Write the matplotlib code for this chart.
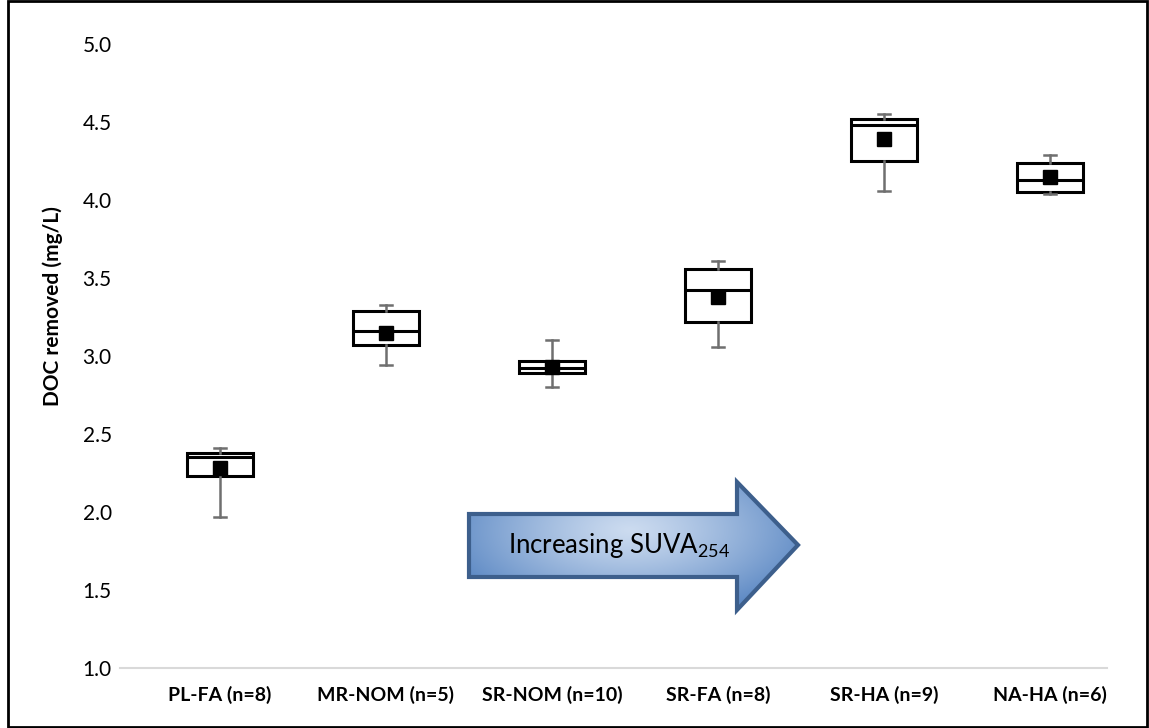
import matplotlib
matplotlib.use("Agg")
import matplotlib.pyplot as plt
import numpy as np
from matplotlib.patches import Polygon, Rectangle

plt.rcParams["font.family"] = ["Lato", "DejaVu Sans"]

# data (mg/L)
categories = ["PL-FA (n=8)", "MR-NOM (n=5)", "SR-NOM (n=10)",
              "SR-FA (n=8)", "SR-HA (n=9)", "NA-HA (n=6)"]
whisker_low = [1.97, 2.94, 2.80, 3.06, 4.06, 4.04]
q1 = [2.23, 3.07, 2.89, 3.22, 4.25, 4.05]
medians = [2.35, 3.16, 2.92, 3.42, 4.48, 4.13]
q3 = [2.38, 3.29, 2.97, 3.56, 4.52, 4.24]
whisker_high = [2.41, 3.33, 3.10, 3.61, 4.55, 4.29]
means = [2.28, 3.15, 2.93, 3.38, 4.39, 4.15]
yticks = [1.0, 1.5, 2.0, 2.5, 3.0, 3.5, 4.0, 4.5, 5.0]

W, H = 1149, 728
fig = plt.figure(figsize=(W / 100, H / 100), dpi=100)
ax = fig.add_axes([120 / W, 60 / H, 987 / W, 624 / H])

pos = np.arange(len(categories))
stats = []
for i in range(len(categories)):
    stats.append({"whislo": whisker_low[i], "q1": q1[i], "med": medians[i],
                  "q3": q3[i], "whishi": whisker_high[i], "fliers": []})

ax.bxp(stats, positions=pos, widths=0.40, showfliers=False, patch_artist=True,
       boxprops=dict(facecolor="white", edgecolor="black", linewidth=2.2),
       medianprops=dict(color="black", linewidth=2.2),
       whiskerprops=dict(color="#6f6f6f", linewidth=1.8),
       capprops=dict(color="#6f6f6f", linewidth=1.8),
       capwidths=0.075, zorder=3)
ax.plot(pos, means, ls="none", marker="s", ms=10, color="black", zorder=5)

ax.set_xlim(-0.602, 5.343)
ax.set_ylim(1.0, 5.0)
ax.set_yticks(yticks)
ax.set_yticklabels([f"{v:.1f}" for v in yticks], fontsize=15)
ax.set_xticks(pos)
ax.set_xticklabels(categories, fontsize=14, fontweight="bold")
ax.tick_params(length=0, pad=6)
ax.tick_params(axis="x", pad=13)
for s in ["top", "right", "left"]:
    ax.spines[s].set_visible(False)
ax.spines["bottom"].set_color("#d9d9d9")
ax.spines["bottom"].set_linewidth(1.5)
ax.set_ylabel("DOC removed (mg/L)", fontsize=15, fontweight="bold")
ax.yaxis.set_label_coords(-57 / 987, 0.58)

# overlay in pixel coords for the arrow and border
ov = fig.add_axes([0, 0, 1, 1], zorder=10)
ov.set_xlim(0, W)
ov.set_ylim(H, 0)
ov.axis("off")
ov.patch.set_alpha(0)

arrow_xy = [(469, 514), (737, 514), (737, 482), (798, 545), (737, 610),
            (737, 577), (469, 577)]
gx, gy = np.meshgrid(np.linspace(460, 805, 200), np.linspace(475, 615, 100))
r = np.sqrt(((gx - 630) / 200) ** 2 + ((gy - 530) / 95) ** 2)
r = np.clip(r, 0, 1) ** 1.2
c0 = np.array([0.80, 0.86, 0.94])
c1 = np.array([0.34, 0.52, 0.76])
img = c0[None, None, :] * (1 - r[..., None]) + c1[None, None, :] * r[..., None]
im = ov.imshow(img, extent=(460, 805, 615, 475), zorder=11, interpolation="bilinear")
poly = Polygon(arrow_xy, closed=True, facecolor="none", edgecolor="#3d5f8c",
               linewidth=3, zorder=12, joinstyle="miter")
ov.add_patch(poly)
im.set_clip_path(poly)
ov.set_xlim(0, W)
ov.set_ylim(H, 0)
ov.text(508, 553, r"Increasing SUVA$_{\mathregular{254}}$", fontsize=18.5,
        color="black", ha="left", va="baseline", zorder=13)

ov.add_patch(Rectangle((8, 1), W - 10, H - 2, fill=False, edgecolor="black",
                       linewidth=2, zorder=20))

fig.savefig("out.png", dpi=100)
